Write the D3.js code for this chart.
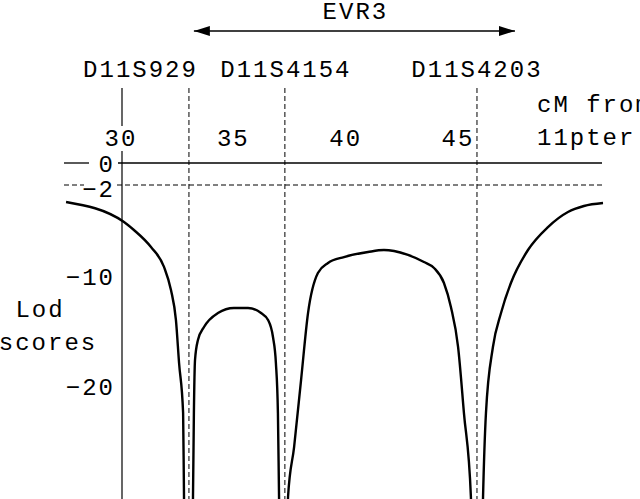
<!DOCTYPE html>
<html>
<head>
<meta charset="utf-8">
<script src="https://cdn.jsdelivr.net/npm/d3@7"></script>
<style>
  html, body { margin: 0; padding: 0; background: #fff; overflow: hidden; }
  svg { display: block; }
  text { font-family: "Courier New", Courier, "Liberation Mono", monospace; font-size: 24px; letter-spacing: 2px; fill: #000; }
</style>
</head>
<body>
<svg id="chart" width="640" height="499"></svg>
<script>
// ---------------- data ----------------
const markerNames = ["D11S929", "D11S4154", "D11S4203"];
const markerPos   = [32.98, 37.25, 45.80];           // cM from 11pter
const xTicks      = [30, 35, 40, 45];
const yTicks      = [0, -2, -10, -20];
const evrLabel    = "EVR3";
const evrRange    = [33.20, 47.49];                  // cM
const xTitle      = ["cM from", "11pter"];
const yTitle      = ["Lod", "scores"];

// Lod score curve (cM, lod); -33 marks the curve leaving the plot at a marker
const curveCM  = [27.51, 30.09, 30.53, 31.29, 31.87, 32.18, 32.40, 32.54, 32.72, 32.76, 32.78,
                  33.14, 33.16, 33.20, 33.25, 33.38, 33.65, 34.27, 34.98, 35.61, 36.19, 36.50, 36.72, 36.85, 36.94, 36.99, 37.01,
                  37.37, 37.39, 37.66, 37.97, 38.28, 38.72, 39.17, 39.88, 40.95, 41.66, 42.11, 42.73, 43.44, 43.89, 44.33, 44.64, 44.96, 45.22, 45.53, 45.56,
                  46.04, 46.07, 46.20, 46.51, 46.87, 47.31, 48.07, 48.96, 49.85, 50.56, 51.41];
const curveLod = [-3.55, -5.36, -6.09, -7.64, -9.45, -11.55, -14.27, -18.18, -22.73, -30.36, -33,
                  -33, -30.36, -22.73, -17.91, -16.09, -14.91, -13.64, -13.18, -13.18, -13.64, -14.27, -15.82, -18.18, -22.73, -30.36, -33,
                  -33, -30.36, -25.82, -19.73, -13.64, -10.0, -9.09, -8.55, -8.09, -7.91, -8.0, -8.36, -9.0, -9.55, -10.91, -13.09, -16.73, -22.73, -30.36, -33,
                  -33, -30.36, -22.73, -16.73, -13.64, -10.91, -7.91, -5.82, -4.45, -3.91, -3.64];

// ---------------- layout ----------------
const svg = d3.select("#chart");
const x = d3.scaleLinear().domain([30, 45]).range([122, 459]);
const y = d3.scaleLinear().domain([0, -10]).range([163, 273]);
const axisTop = 88, axisBottom = 499;

// EVR3 arrow
const defs = svg.append("defs");
["start", "end"].forEach(k => {
  defs.append("marker")
    .attr("id", "arrow-" + k)
    .attr("viewBox", "0 0 16 10")
    .attr("refX", k === "end" ? 16 : 0).attr("refY", 5)
    .attr("markerWidth", 16).attr("markerHeight", 10)
    .attr("markerUnits", "userSpaceOnUse")
    .attr("orient", "auto")
    .append("path")
    .attr("d", k === "end" ? "M0,0 L16,5 L0,10 Z" : "M16,0 L0,5 L16,10 Z")
    .attr("fill", "#000");
});
svg.append("line")
  .attr("x1", x(evrRange[0])).attr("x2", x(evrRange[1]))
  .attr("y1", 31).attr("y2", 31)
  .attr("stroke", "#000").attr("stroke-width", 1.4)
  .attr("marker-start", "url(#arrow-start)")
  .attr("marker-end", "url(#arrow-end)");
svg.append("text")
  .attr("x", (x(evrRange[0]) + x(evrRange[1])) / 2 + 1)
  .attr("y", 19).attr("text-anchor", "middle").text(evrLabel);

// marker labels and dashed verticals
const markerAnchor = ["end", "middle", "middle"];
const markerDx = [9, 1, 0];
svg.selectAll("text.marker").data(markerNames).join("text")
  .attr("class", "marker")
  .attr("x", (d, i) => x(markerPos[i]) + markerDx[i])
  .attr("y", 77)
  .attr("text-anchor", (d, i) => markerAnchor[i])
  .text(d => d);
svg.selectAll("line.marker").data(markerPos).join("line")
  .attr("class", "marker")
  .attr("x1", d => x(d)).attr("x2", d => x(d))
  .attr("y1", axisTop).attr("y2", axisBottom)
  .attr("stroke", "#000").attr("stroke-width", 1)
  .attr("stroke-dasharray", "5,3");

// vertical axis (broken by the "30" label)
svg.append("line").attr("x1", x(30)).attr("x2", x(30)).attr("y1", axisTop).attr("y2", 126)
  .attr("stroke", "#000").attr("stroke-width", 1.2);
svg.append("line").attr("x1", x(30)).attr("x2", x(30)).attr("y1", 151).attr("y2", axisBottom)
  .attr("stroke", "#000").attr("stroke-width", 1.2);

// x tick labels
svg.selectAll("text.xtick").data(xTicks).join("text")
  .attr("class", "xtick")
  .attr("x", d => x(d) - 1).attr("y", 146)
  .attr("text-anchor", "middle").text(d => d);

// x title
xTitle.forEach((t, i) => {
  svg.append("text").attr("x", 537).attr("y", i === 0 ? 112 : 145).text(t);
});

// zero line (solid) and -2 line (dashed)
const xEnd = 602;
svg.append("line").attr("x1", 64).attr("x2", 89).attr("y1", y(0)).attr("y2", y(0))
  .attr("stroke", "#000").attr("stroke-width", 1.3);
svg.append("line").attr("x1", 118).attr("x2", xEnd).attr("y1", y(0)).attr("y2", y(0))
  .attr("stroke", "#000").attr("stroke-width", 1.3);
svg.append("line").attr("x1", 64).attr("x2", 84).attr("y1", y(-2)).attr("y2", y(-2))
  .attr("stroke", "#000").attr("stroke-width", 1).attr("stroke-dasharray", "5,3");
svg.append("line").attr("x1", 117).attr("x2", xEnd).attr("y1", y(-2)).attr("y2", y(-2))
  .attr("stroke", "#000").attr("stroke-width", 1).attr("stroke-dasharray", "5,3");

// y tick labels
svg.selectAll("text.ytick").data(yTicks).join("text")
  .attr("class", "ytick")
  .attr("x", 115).attr("y", d => y(d) + (d === 0 ? 9 : 12))
  .attr("text-anchor", "end")
  .text(d => d === 0 ? "0" : "\u2212" + Math.abs(d));

// y title
svg.append("text").attr("x", 40).attr("y", 317).attr("text-anchor", "middle").text(yTitle[0]);
svg.append("text").attr("x", 48).attr("y", 350).attr("text-anchor", "middle").text(yTitle[1]);

// curve
const pts = curveCM.map((c, i) => [c, curveLod[i]]);
svg.append("path")
  .datum(pts)
  .attr("fill", "none")
  .attr("stroke", "#000")
  .attr("stroke-width", 2.4)
  .attr("d", d3.line().x(d => x(d[0])).y(d => y(d[1])).curve(d3.curveMonotoneX));
</script>
</body>
</html>
